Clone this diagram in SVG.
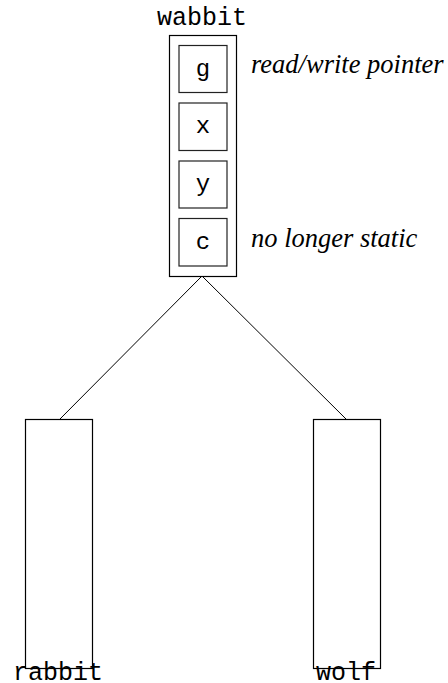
<svg xmlns="http://www.w3.org/2000/svg" width="448" height="683" viewBox="0 0 448 683">
  <style>
    .box { fill: #ffffff; stroke: #000000; stroke-width: 1.2; }
    .slot { fill: #ffffff; stroke: #222222; stroke-width: 1.2; }
    .mono { font-family: "Liberation Mono", "Courier New", monospace; font-size: 25px; fill: #000000; text-anchor: middle; }
    .glyph { font-size: 24px; }
    .note { font-family: "Liberation Serif", "Times New Roman", serif; font-style: italic; font-size: 26.5px; fill: #000000; }
    .edge { stroke: #000000; stroke-width: 1; fill: none; }
  </style>
  <rect width="448" height="683" fill="#ffffff"/>

  <g id="connectors">
    <line class="edge" x1="202" y1="276" x2="59.5" y2="419.5"/>
    <line class="edge" x1="202" y1="276" x2="346.5" y2="419.5"/>
  </g>

  <g id="wabbit">
    <text class="mono" x="202" y="25">wabbit</text>
    <rect class="box" x="169.5" y="35.5" width="67" height="241"/>
    <rect class="slot" x="179" y="45.5" width="48" height="47"/>
    <text class="mono glyph" x="203" y="76">g</text>
    <rect class="slot" x="179" y="103" width="48" height="47.5"/>
    <text class="mono glyph" x="203" y="133">x</text>
    <rect class="slot" x="179" y="161" width="48" height="47"/>
    <text class="mono glyph" x="203" y="191">y</text>
    <rect class="slot" x="179" y="218.5" width="48" height="47.5"/>
    <text class="mono glyph" x="203" y="249">c</text>
    <text class="note" x="251" y="73">read/write pointer</text>
    <text class="note" x="251" y="247">no longer static</text>
  </g>

  <g id="rabbit">
    <rect class="box" x="25.5" y="419.5" width="67" height="249"/>
    <text class="mono" x="58" y="680">rabbit</text>
  </g>

  <g id="wolf">
    <rect class="box" x="313.5" y="419.5" width="67" height="249"/>
    <text class="mono" x="346" y="680">wolf</text>
  </g>
</svg>
